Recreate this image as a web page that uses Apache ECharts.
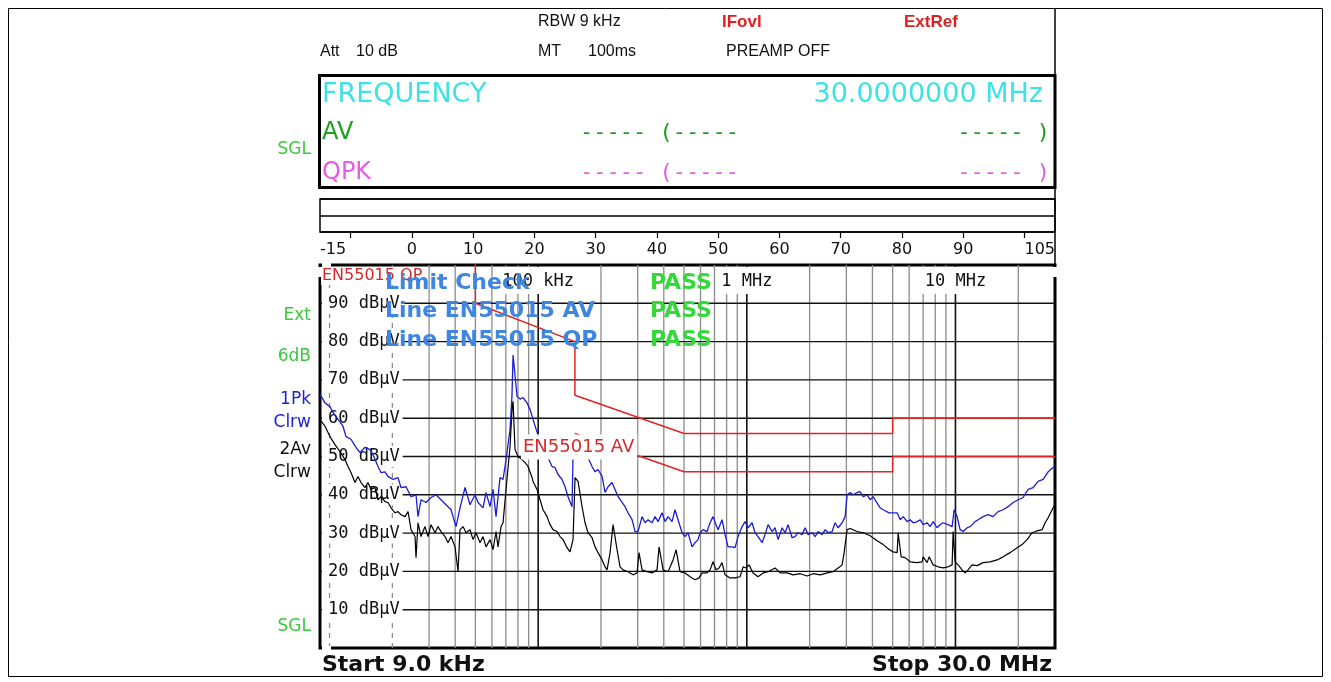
<!DOCTYPE html>
<html>
<head>
<meta charset="utf-8">
<title>EN55015 scan</title>
<script src="https://cdn.jsdelivr.net/npm/echarts@6/dist/echarts.min.js"></script>
<style>
html, body { margin: 0; padding: 0; background: #fff; }
#chart1 { width: 1331px; height: 682px; }
</style>
</head>
<body>
<div id="chart1"></div>
<script>
// frequencies in kHz, levels in dBµV

// trace 1 : peak, clear write (blue)
const peakTrace = [
  [9.0, 66.2], [9.51, 64], [10.05, 63], [10.39, 61.5], [10.98, 59.7], [11.6, 57.9], [11.99, 55.2],
  [12.67, 54.5], [13.39, 52.4], [13.99, 51], [14.79, 52.4], [15.63, 51.8], [16.15, 50.5], [17.07, 47.4],
  [17.64, 45.8], [18.44, 46], [19.06, 44.8], [20.15, 44], [21.29, 44.5], [22.0, 41.9], [23.26, 42.1],
  [24.58, 39.5], [25.97, 40], [26.55, 34.3], [27.44, 38.7], [29.0, 38], [30.65, 39.3], [32.39, 40],
  [34.22, 38.7], [36.17, 37.4], [38.22, 36.1], [40.38, 31.7], [42.21, 36.6], [44.6, 41.9], [47.13, 37.4],
  [49.81, 40], [51.49, 38], [54.41, 36.6], [56.24, 40.6], [58.78, 36.9], [60.76, 41.4], [62.8, 34.3],
  [65.64, 44.5], [67.85, 44], [70.13, 49.2], [73.3, 57], [74.9, 66], [75.8, 76.5], [79.2, 65.7],
  [81.9, 65], [84.6, 65.4], [88.4, 64], [91.4, 62.3], [94.5, 59.7], [98.8, 56.3], [104, 53],
  [111.5, 49.7], [116.5, 47.4], [120.4, 47.1], [124.5, 45.3], [130.1, 44], [134.5, 42.1], [139.0, 39.5],
  [145.3, 36.9], [146.9, 50], [150.2, 51], [158.7, 52], [167.7, 51.5], [173.4, 49.7], [181.2, 47.4],
  [187.3, 46], [193.6, 46.6], [202.4, 44.8], [209.2, 40.6], [216.2, 42.1], [226.0, 43.2], [233.6, 41.4],
  [241.5, 39.5], [252.4, 38], [260.8, 36.9], [269.6, 35.3], [281.8, 33.5], [291.3, 30.4], [301.1, 30.4],
  [314.7, 34.3], [325.3, 32.7], [336.2, 33.5], [351.4, 32.7], [363.2, 34.3], [375.4, 33], [392.4, 35.3],
  [405.6, 33], [419.3, 34.3], [438.2, 33], [452.9, 36.1], [468.2, 33.5], [489.3, 30.1], [505.8, 29.1],
  [522.8, 30.1], [546.4, 26.4], [564.8, 27.5], [583.8, 28.3], [596.8, 30.1], [616.9, 30.9], [644.8, 30.4],
  [666.5, 32.7], [688.9, 34.3], [712.1, 32.2], [728.1, 30.9], [760.9, 33.5], [786.6, 29.6], [813.1, 26.4],
  [849.7, 26.4], [878.4, 26.2], [907.9, 29.1], [949, 31.7], [981, 33], [1014, 31.4], [1060, 32.7],
  [1095, 30.1], [1132, 29.1], [1184, 27.5], [1223, 29.6], [1265, 32.2], [1322, 30.4], [1366, 31.4],
  [1412, 28.3], [1476, 31.4], [1526, 30.1], [1577, 32.2], [1648, 28.8], [1704, 29.1], [1761, 30.1],
  [1841, 29.6], [1903, 31.4], [1967, 29.6], [2056, 30.1], [2125, 29.1], [2197, 30.4], [2296, 29.6],
  [2373, 30.9], [2453, 30.1], [2564, 30.4], [2650, 32.7], [2739, 31.4], [2863, 32.7], [2960, 34.3],
  [3026, 40], [3128, 40.6], [3233, 40], [3379, 40.6], [3493, 40.8], [3610, 39.5], [3773, 40],
  [3901, 38.7], [4032, 39.5], [4214, 37.8], [4356, 36.6], [4503, 36.1], [4811, 35.3], [4864, 35.6],
  [5255, 35.3], [5432, 33.5], [5615, 34.3], [5868, 33], [6065, 33.5], [6269, 32.7], [6551, 33],
  [6772, 33.5], [6999, 32.2], [7315, 32.7], [7561, 31.7], [7816, 33], [8168, 31.4], [8443, 32.2],
  [8726, 32.7], [9221, 32.2], [9638, 31.7], [9853, 36.1], [10184, 34.3], [10527, 30.9], [10882, 30.4],
  [11373, 31.4], [11756, 31.7], [12424, 33], [12842, 33.5], [13571, 34.3], [14342, 34.8], [15155, 34.3],
  [16015, 35.6], [16924, 36.1], [17884, 36.9], [18899, 38], [19971, 38.7], [21104, 39.3], [22302, 41.4],
  [23567, 41.9], [24905, 43.5], [26318, 44], [27812, 46], [29390, 47.1], [30000, 47.5]
];

// trace 2 : average, clear write (black)
const avgTrace = [
  [9.0, 59.7], [9.51, 57.9], [10.05, 55.2], [10.62, 53.1], [11.22, 51.3], [11.86, 49.2], [12.26, 47.4],
  [12.67, 45.8], [13.24, 43.2], [13.69, 44.8], [14.15, 43.2], [14.79, 41.9], [15.28, 43.2], [15.8, 41.4],
  [16.51, 41.9], [17.07, 38.7], [17.64, 39.5], [18.44, 38.2], [19.06, 38], [19.71, 36.6], [20.6, 35.3],
  [21.29, 35.6], [22.0, 34.8], [23.0, 34.3], [23.78, 35.6], [24.58, 30.9], [25.69, 29.1], [25.97, 23.6],
  [26.55, 32.7], [27.44, 29.1], [28.68, 31.7], [29.65, 29.1], [30.65, 32.2], [32.03, 30.1], [33.11, 31.7],
  [34.22, 30.4], [35.77, 29.1], [36.97, 27.5], [38.22, 29.1], [39.94, 26.4], [41.29, 19.9], [42.21, 30.9],
  [43.63, 31.7], [45.1, 30.1], [47.13, 30.9], [48.72, 28.3], [50.36, 30.1], [52.64, 27.5], [54.41, 29.1],
  [56.24, 26.4], [58.78, 28.3], [60.76, 25.7], [62.8, 30.4], [64.2, 26.4], [66.37, 31.7], [67.85, 32.7],
  [70.13, 41.4], [73.3, 52.6], [74.93, 62.3], [75.77, 64.4], [77.45, 51.8], [80.06, 50], [83.68, 49.2],
  [86.49, 48.4], [89.4, 47.4], [93.44, 44.5], [94.48, 43.5], [98.75, 41.4], [102.1, 38.7], [105.5, 36.1],
  [110.3, 34.3], [114.0, 32.2], [117.8, 30.9], [123.1, 30.4], [127.3, 29.1], [131.6, 28.3], [137.5, 26.2],
  [142.1, 25.1], [146.9, 28.3], [150.2, 44.5], [155.3, 43.5], [162.3, 36.9], [167.7, 32.7], [173.4, 30.1],
  [181.2, 28.8], [187.3, 26.4], [193.6, 24.9], [202.4, 23], [209.2, 21.2], [213.9, 20.4], [221.1, 24.9],
  [228.5, 32.2], [238.8, 25.7], [246.8, 21.2], [255.2, 20.4], [269.6, 19.9], [284.9, 19.1], [297.8, 19.6],
  [304.4, 24.9], [314.7, 20.4], [332.5, 19.9], [351.4, 19.6], [371.3, 20.4], [379.6, 26.4], [396.8, 20.4],
  [419.3, 19.9], [443.1, 23], [458.0, 25.7], [478.6, 19.9], [505.8, 19.6], [534.5, 18.6], [564.8, 17.8],
  [590.3, 18.3], [610.2, 19.6], [644.8, 19.6], [666.5, 20.4], [688.9, 22.5], [712.1, 20.4], [736.1, 20.9],
  [760.9, 22.3], [786.6, 19.1], [831.2, 18.3], [878.4, 18.3], [928.3, 18.6], [959.5, 21.2], [991.8, 20.9],
  [1025, 21.7], [1071, 19.6], [1132, 18.6], [1197, 19.6], [1265, 19.9], [1366, 20.9], [1444, 19.6],
  [1560, 19.6], [1667, 19.1], [1801, 19.4], [1945, 18.8], [2079, 19.4], [2246, 19.1], [2426, 19.6],
  [2592, 19.9], [2739, 20.9], [2863, 21.7], [2927, 24.9], [3026, 30.9], [3128, 31.2], [3379, 30.4],
  [3610, 30.1], [3901, 29.3], [4214, 28], [4503, 27], [4811, 25.7], [5028, 25.1], [5255, 24.9],
  [5313, 30.1], [5492, 23.8], [5740, 23.6], [6065, 22.5], [6551, 22.3], [6923, 22.5], [6999, 23.8],
  [7315, 22.3], [7478, 23.8], [7816, 21.7], [8259, 21.2], [8726, 20.9], [9221, 21.2], [9638, 21.7],
  [9745, 30.4], [9962, 22.5], [10297, 21.7], [10762, 20.4], [11125, 19.6], [11499, 20.4], [12019, 21.7],
  [12701, 21.5], [13571, 22.3], [14662, 22.5], [15839, 23], [16924, 23.8], [18284, 24.9], [19752, 26.2],
  [20872, 27], [22057, 28.3], [23308, 30.1], [24631, 30.6], [26029, 30.9], [26906, 32.7], [27812, 34],
  [29390, 36.6], [30000, 37.5]
];

// EN55015 limit lines
const qpLimitFreq = [9, 50, 50, 150, 150, 500, 5000, 5000, 30000];
const qpLimitLevel = [110, 110, 90, 80, 66, 56, 56, 60, 60];
const avLimitFreq = [150, 500, 5000, 5000, 30000];
const avLimitLevel = [56, 46, 46, 50, 50];

// grid / tick values
const gridFreqs = [10, 20, 30, 40, 50, 60, 70, 80, 90,
  100, 200, 300, 400, 500, 600, 700, 800, 900,
  1000, 2000, 3000, 4000, 5000, 6000, 7000, 8000, 9000,
  10000, 20000];
const decadeFreqs = [100, 1000, 10000];
const dashedFreqs = [10, 20];
const levelTicks = [10, 20, 30, 40, 50, 60, 70, 80, 90];
const freqTickLabels = { 100: '100 kHz', 1000: '1 MHz', 10000: '10 MHz' };
const rulerTicks = [-10, 0, 10, 20, 30, 40, 50, 60, 70, 80, 90, 100];
const rulerLabels = [-15, 0, 10, 20, 30, 40, 50, 60, 70, 80, 90, 105];

const zip = (xs, ys) => xs.map((x, i) => [x, ys[i]]);

const mono = '"DejaVu Sans Mono", monospace';
const sans = '"DejaVu Sans", sans-serif';
const narrow = '"Liberation Sans Narrow", "Liberation Sans", sans-serif';

// text helper for the instrument annotations
function txt (text, x, y, color, font, align, more) {
  const style = {
    text: text, x: x, y: y, fill: color, font: font,
    textAlign: align || 'left', textVerticalAlign: 'middle'
  };
  return { type: 'text', z: 100, style: Object.assign(style, more || {}) };
}

const mycharts = echarts.init(document.getElementById('chart1'));

const option = {
  animation: false,
  backgroundColor: '#fff',
  grid: [
    { left: 320, top: 265, width: 735, height: 383, show: true, backgroundColor: '#fff', borderColor: '#000', borderWidth: 3 },
    { left: 320, top: 199, width: 735, height: 33, show: true, backgroundColor: '#fff', borderColor: '#000', borderWidth: 1.5 }
  ],
  xAxis: [
    {
      gridIndex: 0, type: 'log', logBase: 10, min: 9, max: 30000, position: 'top', z: 5,
      axisLine: { show: false }, axisTick: { show: false }, splitLine: { show: false },
      axisLabel: {
        inside: true, margin: 2, color: '#111', fontFamily: mono, fontSize: 17,
        backgroundColor: '#fff', padding: [6, 3, 4, 3],
        formatter: v => freqTickLabels[Math.round(v)] || ''
      }
    },
    {
      gridIndex: 1, type: 'value', min: -15, max: 105, position: 'bottom',
      axisLine: { show: false }, splitLine: { show: false },
      axisTick: { show: true, customValues: rulerTicks, length: 6, lineStyle: { color: '#000', width: 1.2 } },
      axisLabel: {
        customValues: rulerLabels, margin: 10, color: '#111', fontFamily: sans, fontSize: 16,
        alignMinLabel: 'left', alignMaxLabel: 'right'
      }
    }
  ],
  yAxis: [
    {
      gridIndex: 0, type: 'value', min: 0, max: 100, interval: 10, z: 1,
      axisLine: { show: false }, axisTick: { show: false }, splitLine: { show: false },
      axisLabel: {
        inside: true, margin: 2, color: '#111', fontFamily: mono, fontSize: 17,
        backgroundColor: '#fff', padding: [2, 3, 2, 6],
        formatter: v => (v > 0 && v < 100) ? v + ' dBµV' : ''
      }
    },
    {
      gridIndex: 1, type: 'value', min: 0, max: 2, interval: 1,
      axisLine: { show: false }, axisTick: { show: false }, axisLabel: { show: false },
      splitLine: { show: true, lineStyle: { color: '#000', width: 1.5 } }
    }
  ],
  series: [
    {
      // vertical frequency grid
      type: 'custom', xAxisIndex: 0, yAxisIndex: 0, z: 0, silent: true,
      data: gridFreqs.map(f => [f, 0]),
      renderItem: (params, api) => {
        const f = api.value(0);
        const p0 = api.coord([f, 0]);
        const p1 = api.coord([f, 100]);
        const decade = decadeFreqs.indexOf(f) >= 0;
        const dashed = dashedFreqs.indexOf(f) >= 0;
        return {
          type: 'line',
          shape: { x1: p0[0], y1: p0[1], x2: p1[0], y2: p1[1] },
          style: {
            stroke: decade ? '#111' : '#8c8c8c',
            lineWidth: decade ? 1.6 : 1.3,
            lineDash: dashed ? [5, 5] : null
          }
        };
      }
    },
    {
      // horizontal level grid
      type: 'custom', xAxisIndex: 0, yAxisIndex: 0, z: 0, silent: true,
      data: levelTicks.map(v => [9, v]),
      renderItem: (params, api) => {
        const v = api.value(1);
        const p0 = api.coord([9, v]);
        const p1 = api.coord([30000, v]);
        return {
          type: 'line',
          shape: { x1: p0[0], y1: p0[1], x2: p1[0], y2: p1[1] },
          style: { stroke: '#111', lineWidth: 1.4 }
        };
      }
    },
    {
      name: 'EN55015 QP', type: 'line', xAxisIndex: 0, yAxisIndex: 0, z: 2,
      data: zip(qpLimitFreq, qpLimitLevel), symbol: 'none', clip: true,
      lineStyle: { color: '#e02424', width: 1.5 }
    },
    {
      name: 'EN55015 AV', type: 'line', xAxisIndex: 0, yAxisIndex: 0, z: 2,
      data: zip(avLimitFreq, avLimitLevel), symbol: 'none', clip: true,
      lineStyle: { color: '#e02424', width: 1.5 }
    },
    {
      name: '1Pk Clrw', type: 'line', xAxisIndex: 0, yAxisIndex: 0, z: 2,
      data: peakTrace, symbol: 'none',
      lineStyle: { color: '#1c1cd4', width: 1.3 }
    },
    {
      name: '2Av Clrw', type: 'line', xAxisIndex: 0, yAxisIndex: 0, z: 3,
      data: avgTrace, symbol: 'none',
      lineStyle: { color: '#000', width: 1.2 }
    }
  ],
  graphic: [
    { type: 'rect', z: 50, shape: { x: 8.5, y: 8.5, width: 1314, height: 668 }, style: { fill: 'none', stroke: '#000', lineWidth: 1 } },
    { type: 'line', z: 50, shape: { x1: 1055, y1: 9, x2: 1055, y2: 265 }, style: { stroke: '#000', lineWidth: 1.5 } },
    { type: 'rect', z: 50, shape: { x: 319.5, y: 75.5, width: 735.5, height: 112 }, style: { fill: 'none', stroke: '#000', lineWidth: 3 } },

    // instrument settings
    txt('Att', 320, 52, '#111', '16px ' + narrow),
    txt('10 dB', 356, 52, '#111', '16px ' + narrow),
    txt('RBW 9 kHz', 538, 22, '#111', '16px ' + narrow),
    txt('MT', 538, 52, '#111', '16px ' + narrow),
    txt('100ms', 588, 52, '#111', '16px ' + narrow),
    txt('IFovl', 722, 22, '#e02020', 'bold 17px ' + narrow),
    txt('PREAMP OFF', 726, 52, '#111', '16px ' + narrow),
    txt('ExtRef', 904, 22, '#e02020', 'bold 17px ' + narrow),

    // marker box
    txt('FREQUENCY', 322, 95, '#3ee2e2', '27px ' + sans),
    txt('30.0000000 MHz', 1043, 95, '#3ee2e2', '27px ' + sans, 'right'),
    txt('AV', 322, 133, '#1e9e1e', '24px ' + sans),
    txt('----- (-----', 580, 133, '#1e9e1e', '22px ' + mono),
    txt('----- )', 1050, 133, '#1e9e1e', '22px ' + mono, 'right'),
    txt('QPK', 322, 173, '#e65ce6', '24px ' + sans),
    txt('----- (-----', 580, 173, '#e65ce6', '22px ' + mono),
    txt('----- )', 1050, 173, '#e65ce6', '22px ' + mono, 'right'),
    txt('SGL', 311, 150, '#3cc83c', '17px ' + sans, 'right'),

    // left trace legend
    txt('Ext', 311, 316, '#3cc83c', '17px ' + sans, 'right'),
    txt('6dB', 311, 357, '#3cc83c', '17px ' + sans, 'right'),
    txt('1Pk', 311, 400, '#2222cc', '17px ' + sans, 'right'),
    txt('Clrw', 311, 423, '#2222cc', '17px ' + sans, 'right'),
    txt('2Av', 311, 450, '#111', '17px ' + sans, 'right'),
    txt('Clrw', 311, 473, '#111', '17px ' + sans, 'right'),
    txt('SGL', 311, 627, '#3cc83c', '17px ' + sans, 'right'),

    // limit check annotations
    txt('EN55015 QP', 321, 276, '#d42a2a', '16px ' + sans, 'left', { backgroundColor: '#fff', padding: [1, 2, 1, 1] }),
    txt('Limit Check', 385, 283, '#3f86e0', 'bold 22px ' + sans),
    txt('Line EN55015 AV', 385, 311, '#3f86e0', 'bold 22px ' + sans),
    txt('Line EN55015 QP', 385, 340, '#3f86e0', 'bold 22px ' + sans),
    txt('PASS', 650, 283, '#33d83a', 'bold 22px ' + sans),
    txt('PASS', 650, 311, '#33d83a', 'bold 22px ' + sans),
    txt('PASS', 650, 340, '#33d83a', 'bold 22px ' + sans),
    txt('EN55015 AV', 521, 447, '#d42a2a', '18px ' + sans, 'left', { backgroundColor: '#fff', padding: [4, 3, 3, 2] }),

    // span
    txt('Start 9.0 kHz', 322, 665, '#111', 'bold 22px ' + sans),
    txt('Stop 30.0 MHz', 1052, 665, '#111', 'bold 22px ' + sans, 'right')
  ]
};

mycharts.setOption(option);
</script>
</body>
</html>
